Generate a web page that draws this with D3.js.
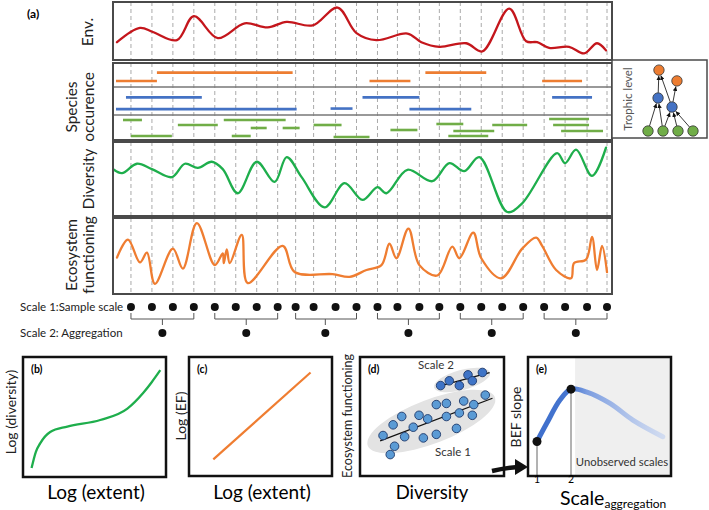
<!DOCTYPE html>
<html>
<head>
<meta charset="utf-8">
<script src="https://cdn.jsdelivr.net/npm/d3@7"></script>
<style>
    body { margin: 0; background: white; }
    svg { display: block; font-family: Lato, "Open Sans", sans-serif; }
</style>
</head>
<body>
<div id="chart"></div>
<script>
    // ---- data (a): positions along the transect, 0-500; levels 0-100 inside each panel
    const samples = [18, 39, 60, 81, 102, 123, 144, 165, 183, 201, 223, 244, 265, 285, 307, 327, 348, 369, 390, 411, 432, 453, 475, 495];

    const envSeries = [[4, 27], [27, 55], [40, 47], [64, 31], [81, 78], [105, 35], [132, 64], [155, 56], [174, 67], [200, 60],
        [225, 95], [244, 45], [264, 31], [295, 44], [309, 27], [327, 18], [354, 25], [370, 9], [397, 93], [414, 29],
        [425, 27], [437, 16], [457, 18], [472, 5], [485, 25], [494, 11]];

    const diversitySeries = [[1, 63], [9, 58], [24, 72], [39, 64], [59, 52], [72, 72], [85, 66], [99, 75], [110, 64], [125, 28],
        [144, 75], [162, 45], [174, 82], [189, 52], [212, 7], [232, 43], [250, 18], [265, 37], [274, 28], [295, 63],
        [320, 46], [337, 73], [352, 61], [367, 82], [395, 0], [410, 13], [445, 88], [453, 73], [464, 93], [480, 54], [494, 96]];

    const efSeries = [[4, 47], [15, 73], [27, 40], [34, 54], [42, 9], [60, 60], [70, 31], [84, 97], [102, 36], [110, 53],
        [111, 39], [114, 59], [117, 39], [129, 80], [135, 10], [170, 64], [182, 26], [220, 23], [237, 19], [254, 29],
        [269, 36], [277, 67], [284, 46], [296, 89], [307, 36], [325, 21], [340, 63], [347, 46], [361, 83], [369, 46],
        [389, 17], [410, 60], [424, 76], [430, 64], [444, 29], [459, 17], [462, 39], [474, 44], [480, 77], [485, 29],
        [490, 64], [495, 26]];

    // species occurrence: [start, end, lane within trophic band (0 top - 1 bottom)]
    const orangeBars = [[44, 180, 0.40], [3, 44, 0.75], [313, 374, 0.40], [257, 298, 0.75], [430, 470, 0.75]];
    const blueBars = [[13, 89, 0.37], [3, 184, 0.79], [218, 240, 0.77], [250, 307, 0.37], [297, 359, 0.79], [440, 480, 0.37]];
    const greenBars = [[10, 29, 0.2], [65, 105, 0.4], [111, 173, 0.2], [138, 154, 0.52], [170, 187, 0.52], [201, 229, 0.4],
        [18, 59, 0.84], [119, 138, 0.84], [221, 257, 0.88], [278, 305, 0.6], [324, 351, 0.36], [341, 382, 0.64],
        [336, 376, 0.84], [380, 415, 0.4], [437, 477, 0.16], [441, 477, 0.4], [449, 491, 0.64]];

    // food web inset: slot (horizontal), level (trophic)
    const webNodes = [
        { id: "o1", s: 0.73, l: 2.03, c: "#ed7d31" }, { id: "o2", s: 1.93, l: 1.67, c: "#ed7d31" },
        { id: "b1", s: 0.67, l: 1.1, c: "#4472c4" }, { id: "b2", s: 1.6, l: 0.8, c: "#4472c4" },
        { id: "g1", s: 0, l: 0, c: "#70ad47" }, { id: "g2", s: 1, l: 0, c: "#70ad47" },
        { id: "g3", s: 2, l: 0, c: "#70ad47" }, { id: "g4", s: 3, l: 0, c: "#70ad47" }];
    const webLinks = [["g1", "b1"], ["g2", "b1"], ["g2", "b2"], ["g3", "b2"], ["g4", "b2"], ["b1", "o1"], ["b2", "o1"], ["b2", "o2"]];

    // ---- data (b)-(e), 0-100 inside each box unless noted
    const diversityExtent = [[6, 7.5], [9, 21], [12, 28], [19, 37.5], [31, 42], [54, 47.5], [73, 57], [84, 70], [90, 79], [96, 89]];
    const efExtent = [[17, 14], [85, 87]];
    const scale1Points = [[16, 34], [23, 43], [29, 50], [24, 25], [21, 18], [31, 33], [37, 41], [41, 51], [47, 48], [44, 32],
        [53, 35], [53, 60], [60, 61], [60, 50], [69, 53], [67, 40], [72, 63], [79, 60], [87, 68], [78, 51]];
    const scale2Points = [[56, 76], [62, 80], [69, 76], [75, 85], [85, 87], [78, 80]];
    // x in aggregation units (1 = sample scale, 2 = aggregation)
    const befCurve = [[1, 29], [1.29, 44.5], [1.68, 64], [2, 73], [2.47, 70.5], [3.15, 61], [3.82, 47], [4.7, 33]];
    const befObserved = [[1, 29], [2, 73]];
    const befTicks = [1, 2];


    const svg = d3.select("#chart").append("svg").attr("width", 709).attr("height", 510);

    const defs = svg.append("defs");
    defs.append("marker").attr("id", "tip").attr("viewBox", "0 0 10 10")
        .attr("refX", 10).attr("refY", 5).attr("markerWidth", 5).attr("markerHeight", 5)
        .attr("orient", "auto")
        .append("path").attr("d", "M0,0 L10,5 L0,10 z").attr("fill", "#111");

    const fade = defs.append("linearGradient").attr("id", "fade").attr("gradientUnits", "userSpaceOnUse");

    // ================= (a) =================
    const x = d3.scaleLinear().domain([0, 500]).range([113, 612]);

    const panels = {
        env: { top: 2, bottom: 60 },
        occ: { top: 63, bottom: 140 },
        div: { top: 142, bottom: 216 },
        eco: { top: 218, bottom: 294 }
    };

    function panelY(p) {
        return d3.scaleLinear().domain([0, 100]).range([p.bottom - 4, p.top + 3]);
    }

    function drawGrid(p) {
        svg.append("g").selectAll("line").data(samples).join("line")
            .attr("x1", d => x(d)).attr("x2", d => x(d))
            .attr("y1", p.top).attr("y2", p.bottom)
            .attr("stroke", "#aaa").attr("stroke-width", 1).attr("stroke-dasharray", "4,3");
    }

    function drawBorder(p) {
        svg.append("rect").attr("x", 113).attr("y", p.top)
            .attr("width", 499).attr("height", p.bottom - p.top)
            .attr("fill", "none").attr("stroke", "#4a4a4a").attr("stroke-width", 2);
    }

    function drawSeries(p, data, color) {
        const y = panelY(p);
        const line = d3.line().x(d => x(d[0])).y(d => y(d[1])).curve(d3.curveCatmullRom.alpha(0.5));
        svg.append("path").datum(data).attr("d", line)
            .attr("fill", "none").attr("stroke", color).attr("stroke-width", 2.3)
            .attr("stroke-linejoin", "round").attr("stroke-linecap", "round");
    }

    function vLabel(cx, cy, lines, size, color) {
        lines.forEach((t, i) => {
            svg.append("text")
                .attr("transform", `translate(${cx + i * size * 1.12},${cy}) rotate(-90)`)
                .attr("text-anchor", "middle").attr("font-size", size)
                .attr("fill", color || "#222").text(t);
        });
    }

    for (const k in panels) drawGrid(panels[k]);

    drawSeries(panels.env, envSeries, "#c4161c");
    drawSeries(panels.div, diversitySeries, "#1eae4c");
    drawSeries(panels.eco, efSeries, "#ef7d31");

    // species occurrence bands
    const bands = [
        { top: 63, bottom: 87, bars: orangeBars, color: "#ed7d31" },
        { top: 87, bottom: 115, bars: blueBars, color: "#4472c4" },
        { top: 115, bottom: 140, bars: greenBars, color: "#70ad47" }
    ];
    bands.forEach(b => {
        const lane = d3.scaleLinear().domain([0, 1]).range([b.top, b.bottom]);
        svg.append("g").selectAll("line").data(b.bars).join("line")
            .attr("x1", d => x(d[0])).attr("x2", d => x(d[1]))
            .attr("y1", d => lane(d[2])).attr("y2", d => lane(d[2]))
            .attr("stroke", b.color).attr("stroke-width", 2.6);
    });
    [87, 115].forEach(yy => {
        svg.append("line").attr("x1", 113).attr("x2", 612).attr("y1", yy).attr("y2", yy)
            .attr("stroke", "#777").attr("stroke-width", 1.5);
    });

    for (const k in panels) drawBorder(panels[k]);

    svg.append("text").attr("x", 27).attr("y", 18).attr("font-size", 12).attr("font-weight", "bold").text("(a)");
    vLabel(93, 32, ["Env."], 15.5);
    vLabel(77, 107, ["Species", "occurence"], 15.5);
    vLabel(94, 179, ["Diversity"], 15.5);
    vLabel(77, 255, ["Ecosystem", "functioning"], 15.5);

    // food web inset
    const web = svg.append("g");
    web.append("rect").attr("x", 612).attr("y", 60).attr("width", 95).attr("height", 78)
        .attr("fill", "white").attr("stroke", "#4a4a4a").attr("stroke-width", 1.5);
    web.append("text").attr("transform", "translate(632,99) rotate(-90)")
        .attr("text-anchor", "middle").attr("font-size", 11.5).attr("fill", "#555").text("Trophic level");
    const ws = d3.scaleLinear().domain([0, 3]).range([648, 693]);
    const wl = d3.scaleLinear().domain([0, 2]).range([131, 71]);
    const nodeById = new Map(webNodes.map(n => [n.id, n]));
    const r = 5.2;
    webLinks.forEach(([a, b]) => {
        const s = nodeById.get(a), t = nodeById.get(b);
        const x1 = ws(s.s), y1 = wl(s.l), x2 = ws(t.s), y2 = wl(t.l);
        const len = Math.hypot(x2 - x1, y2 - y1);
        const ux = (x2 - x1) / len, uy = (y2 - y1) / len;
        web.append("line")
            .attr("x1", x1 + ux * r).attr("y1", y1 + uy * r)
            .attr("x2", x2 - ux * (r + 0.5)).attr("y2", y2 - uy * (r + 0.5))
            .attr("stroke", "#222").attr("stroke-width", 0.9).attr("marker-end", "url(#tip)");
    });
    web.selectAll("circle").data(webNodes).join("circle")
        .attr("cx", d => ws(d.s)).attr("cy", d => wl(d.l)).attr("r", r)
        .attr("fill", d => d.c).attr("stroke", "#333").attr("stroke-width", 0.8);

    // scale rows
    svg.append("text").attr("x", 20).attr("y", 311).attr("font-size", 11.5).attr("fill", "#222").text("Scale 1:Sample scale");
    svg.append("text").attr("x", 20).attr("y", 337).attr("font-size", 11.5).attr("fill", "#222").text("Scale 2: Aggregation");

    svg.append("g").selectAll("circle").data(samples).join("circle")
        .attr("cx", d => x(d)).attr("cy", 307).attr("r", 4).attr("fill", "#111");

    const groups = d3.range(6).map(i => samples.slice(i * 4, i * 4 + 4));
    groups.forEach(gp => {
        const x0 = x(gp[0]), x1 = x(gp[3]), xm = x(d3.mean(gp));
        svg.append("path")
            .attr("d", `M${x0},313 L${x0},319 L${x1},319 L${x1},313 M${xm},319 L${xm},325`)
            .attr("fill", "none").attr("stroke", "#555").attr("stroke-width", 1);
        svg.append("circle").attr("cx", xm).attr("cy", 333).attr("r", 4).attr("fill", "#111");
    });

    // ================= bottom boxes =================
    function box(x0, x1, y0, y1) {
        return {
            x: d3.scaleLinear().domain([0, 100]).range([x0, x1]),
            y: d3.scaleLinear().domain([0, 100]).range([y1, y0]),
            x0, x1, y0, y1
        };
    }

    function boxFrame(b, tag) {
        svg.append("rect").attr("x", b.x0).attr("y", b.y0).attr("width", b.x1 - b.x0).attr("height", b.y1 - b.y0)
            .attr("fill", "none").attr("stroke", "#111").attr("stroke-width", 2.5);
        svg.append("text").attr("x", b.x0 + 8).attr("y", b.y0 + 16).attr("font-size", 10.5)
            .attr("font-weight", "bold").text(tag);
    }

    // (b)
    const bB = box(23, 166, 357, 477);
    svg.append("path").datum(diversityExtent)
        .attr("d", d3.line().x(d => bB.x(d[0])).y(d => bB.y(d[1])).curve(d3.curveMonotoneX))
        .attr("fill", "none").attr("stroke", "#1eae4c").attr("stroke-width", 2.3);
    boxFrame(bB, "(b)");
    vLabel(16, 412, ["Log (diversity)"], 14);
    svg.append("text").attr("x", 96).attr("y", 499).attr("text-anchor", "middle").attr("font-size", 19).text("Log (extent)");

    // (c)
    const bC = box(189, 332, 357, 476);
    svg.append("path").datum(efExtent)
        .attr("d", d3.line().x(d => bC.x(d[0])).y(d => bC.y(d[1])))
        .attr("fill", "none").attr("stroke", "#ef7d31").attr("stroke-width", 2.2);
    boxFrame(bC, "(c)");
    vLabel(186, 416, ["Log (EF)"], 14);
    svg.append("text").attr("x", 262).attr("y", 499).attr("text-anchor", "middle").attr("font-size", 19).text("Log (extent)");

    // (d)
    const bD = box(360, 504, 357, 476);

    function fit(pts) {
        const mx = d3.mean(pts, d => d[0]), my = d3.mean(pts, d => d[1]);
        const b = d3.sum(pts, d => (d[0] - mx) * (d[1] - my)) / d3.sum(pts, d => (d[0] - mx) ** 2);
        return { mx, my, b, a: my - b * mx };
    }

    function drawGroup(pts, fill, rx, ry, xlo, xhi) {
        const f = fit(pts);
        const cx = bD.x(f.mx), cy = bD.y(f.my);
        const ang = Math.atan2(bD.y(f.a + f.b * 100) - bD.y(f.a), bD.x(100) - bD.x(0)) * 180 / Math.PI;
        svg.append("ellipse").attr("cx", cx).attr("cy", cy).attr("rx", rx).attr("ry", ry)
            .attr("transform", `rotate(${ang},${cx},${cy})`).attr("fill", "#e3e3e3");
        svg.append("line")
            .attr("x1", bD.x(xlo)).attr("y1", bD.y(f.a + f.b * xlo))
            .attr("x2", bD.x(xhi)).attr("y2", bD.y(f.a + f.b * xhi))
            .attr("stroke", "#111").attr("stroke-width", 1.3);
        svg.append("g").selectAll("circle").data(pts).join("circle")
            .attr("cx", d => bD.x(d[0])).attr("cy", d => bD.y(d[1])).attr("r", 4.3)
            .attr("fill", fill).attr("stroke", "#1f3a6b").attr("stroke-width", 0.9);
    }
    drawGroup(scale1Points, "#5b9bd5", 68, 22, 14, 92);
    drawGroup(scale2Points, "#3f74c6", 29, 10, 57, 90);
    svg.append("text").attr("x", 436).attr("y", 369).attr("text-anchor", "middle").attr("font-size", 11.5).attr("fill", "#333").text("Scale 2");
    svg.append("text").attr("x", 453).attr("y", 456).attr("text-anchor", "middle").attr("font-size", 11.5).attr("fill", "#333").text("Scale 1");
    boxFrame(bD, "(d)");
    vLabel(352, 416, ["Ecosystem functioning"], 12.5);
    svg.append("text").attr("x", 432).attr("y", 499).attr("text-anchor", "middle").attr("font-size", 18.5).text("Diversity");

    // (e)
    const eY = d3.scaleLinear().domain([0, 100]).range([476, 357]);
    const eX = d3.scaleLinear().domain([1, 2]).range([537, 571]);
    svg.append("rect").attr("x", eX(2.12)).attr("y", 357).attr("width", 671 - eX(2.12)).attr("height", 119).attr("fill", "#efefef");
    svg.append("text").attr("x", 622).attr("y", 466).attr("text-anchor", "middle").attr("font-size", 11.3).attr("fill", "#333").text("Unobserved scales");

    fade.attr("x1", eX(1)).attr("x2", eX(4.7)).attr("y1", 0).attr("y2", 0);
    fade.append("stop").attr("offset", 0).attr("stop-color", "#3f6fcc");
    fade.append("stop").attr("offset", 0.27).attr("stop-color", "#4676d0");
    fade.append("stop").attr("offset", 0.4).attr("stop-color", "#7c9de0");
    fade.append("stop").attr("offset", 1).attr("stop-color", "#c4d3f1").attr("stop-opacity", 0.7);

    svg.append("g").selectAll("line").data(befObserved).join("line")
        .attr("x1", d => eX(d[0])).attr("x2", d => eX(d[0]))
        .attr("y1", d => eY(d[1])).attr("y2", 476)
        .attr("stroke", "#666").attr("stroke-width", 1);
    svg.append("path").datum(befCurve)
        .attr("d", d3.line().x(d => eX(d[0])).y(d => eY(d[1])).curve(d3.curveCatmullRom.alpha(0.5)))
        .attr("fill", "none").attr("stroke", "url(#fade)").attr("stroke-width", 5).attr("stroke-linecap", "round");
    svg.append("g").selectAll("circle").data(befObserved).join("circle")
        .attr("cx", d => eX(d[0])).attr("cy", d => eY(d[1])).attr("r", 4.5).attr("fill", "#111");

    svg.append("rect").attr("x", 528).attr("y", 357).attr("width", 143).attr("height", 119)
        .attr("fill", "none").attr("stroke", "#111").attr("stroke-width", 2.5);
    svg.append("text").attr("x", 536).attr("y", 373).attr("font-size", 10.5).attr("font-weight", "bold").text("(e)");

    svg.append("g").selectAll("text").data(befTicks).join("text")
        .attr("x", d => eX(d)).attr("y", 483).attr("text-anchor", "middle").attr("font-size", 10.5).text(d => d);
    vLabel(521, 417, ["BEF slope"], 14);
    const sc = svg.append("text").attr("x", 560).attr("y", 505).attr("font-size", 19.5);
    sc.append("tspan").text("Scale");
    sc.append("tspan").attr("font-size", 12).attr("dy", 2.5).text("aggregation");

    // arrow from (d) to (e)
    svg.append("path").attr("d", "M492,471 Q505,468 518,467")
        .attr("fill", "none").attr("stroke", "#111").attr("stroke-width", 4.5);
    svg.append("path").attr("d", "M515,459 L528,467 L515,475 Z").attr("fill", "#111");
</script>
</body>
</html>
